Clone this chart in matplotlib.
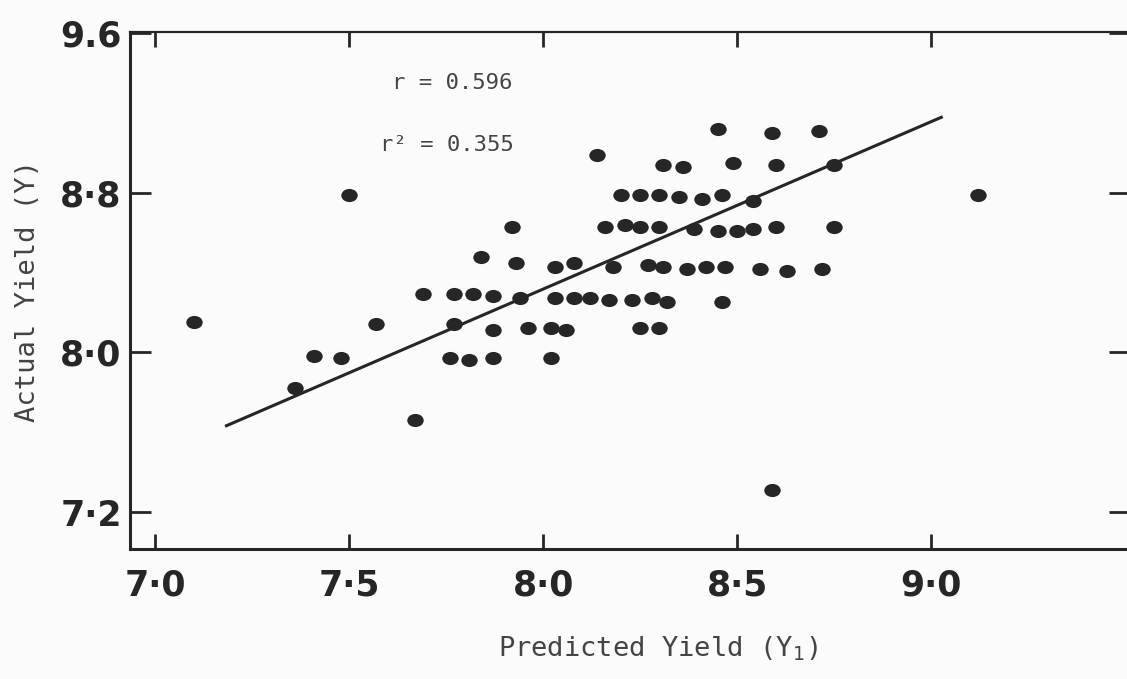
import numpy as np
import matplotlib
matplotlib.use("Agg")
import matplotlib.pyplot as plt
from matplotlib.path import Path
from matplotlib.transforms import Affine2D

# ============================================================
# Data
# ============================================================
predicted = [
    8.45, 8.59, 8.71,
    8.14,
    8.31, 8.36, 8.49, 8.60, 8.75,
    8.20, 8.25, 8.30, 8.35, 8.41, 8.46, 8.54, 9.12, 7.50,
    7.92, 8.16, 8.21, 8.25, 8.30, 8.39, 8.45, 8.50, 8.54, 8.60, 8.75,
    7.84, 7.93, 8.03, 8.08, 8.18, 8.27, 8.31, 8.37, 8.42, 8.47, 8.56, 8.63, 8.72,
    7.69, 7.77, 7.82, 7.87, 7.94, 8.03, 8.08, 8.12, 8.17, 8.23, 8.28, 8.32, 8.46,
    7.10, 7.57, 7.77, 7.87, 7.96, 8.02, 8.06, 8.25, 8.30,
    7.41, 7.48, 7.76, 7.81, 7.87, 8.02,
    7.36, 7.67, 8.59,
]
actual = [
    9.12, 9.10, 9.11,
    8.99,
    8.94, 8.93, 8.95, 8.94, 8.94,
    8.79, 8.79, 8.79, 8.78, 8.77, 8.79, 8.76, 8.79, 8.79,
    8.63, 8.63, 8.64, 8.63, 8.63, 8.62, 8.61, 8.61, 8.62, 8.63, 8.63,
    8.48, 8.45, 8.43, 8.45, 8.43, 8.44, 8.43, 8.42, 8.43, 8.43, 8.42, 8.41, 8.42,
    8.29, 8.29, 8.29, 8.28, 8.27, 8.27, 8.27, 8.27, 8.26, 8.26, 8.27, 8.25, 8.25,
    8.15, 8.14, 8.14, 8.11, 8.12, 8.12, 8.11, 8.12, 8.12,
    7.98, 7.97, 7.97, 7.96, 7.97, 7.97,
    7.82, 7.66, 7.31,
]

# fitted regression line (end points as drawn)
fit_x = [7.18, 9.03]
fit_y = [7.63, 9.18]

x_ticks = [7.0, 7.5, 8.0, 8.5, 9.0]
x_labels = ["7·0", "7·5", "8·0", "8·5", "9·0"]
y_ticks = [7.2, 8.0, 8.8, 9.6]
y_labels = ["7·2", "8·0", "8·8", "9.6"]

r_text = "r = 0.596"
r2_text = "r\u00b2 = 0.355"

# ============================================================
# Figure
# ============================================================
ink = "#262626"
paper = "#fbfbfb"

fig = plt.figure(figsize=(11.27, 6.79), dpi=100, facecolor=paper)
ax = fig.add_axes([130 / 1127, 130 / 679, 1000 / 1127, 517 / 679])
ax.set_facecolor(paper)

# slightly oval dots, like the pen marks in the scan
dot = Path.unit_circle().transformed(Affine2D().scale(1.25, 1.0))
ax.scatter(predicted, actual, marker=dot, s=140, color=ink, linewidths=0, zorder=3)
ax.plot(fit_x, fit_y, color=ink, lw=2.2, solid_capstyle="butt", zorder=2)

ax.set_xlim(6.935, 9.513)
ax.set_ylim(7.016, 9.604)

ax.set_xticks(x_ticks)
ax.set_xticklabels(x_labels)
ax.set_yticks(y_ticks)
ax.set_yticklabels(y_labels)

ax.tick_params(axis="both", direction="in", color=ink, width=2, length=11,
               labelsize=25, labelcolor=ink, top=True, right=True)
ax.tick_params(axis="x", pad=14)
ax.tick_params(axis="y", length=15, pad=6)
for lab in ax.get_xticklabels() + ax.get_yticklabels():
    lab.set_fontweight("bold")

for side in ["left", "bottom", "top"]:
    ax.spines[side].set_color(ink)
    ax.spines[side].set_linewidth(2.2)
ax.spines["top"].set_linewidth(1.6)
ax.spines["right"].set_visible(False)

mono = "DejaVu Sans Mono"
ax.set_xlabel("Predicted Yield (Y$_1$)", family=mono, fontsize=19.5,
              color="#444444")
ax.xaxis.set_label_coords(0.528, -0.165)
ax.set_ylabel("Actual Yield (Y)", family=mono, fontsize=19.5,
              color="#444444", labelpad=14)

ax.text(7.61, 9.35, r_text, family=mono, fontsize=16, color="#444444",
        va="center", ha="left")
ax.text(7.58, 9.04, r2_text, family=mono, fontsize=16, color="#444444",
        va="center", ha="left")

fig.savefig("out.png", dpi=100, facecolor=paper)
